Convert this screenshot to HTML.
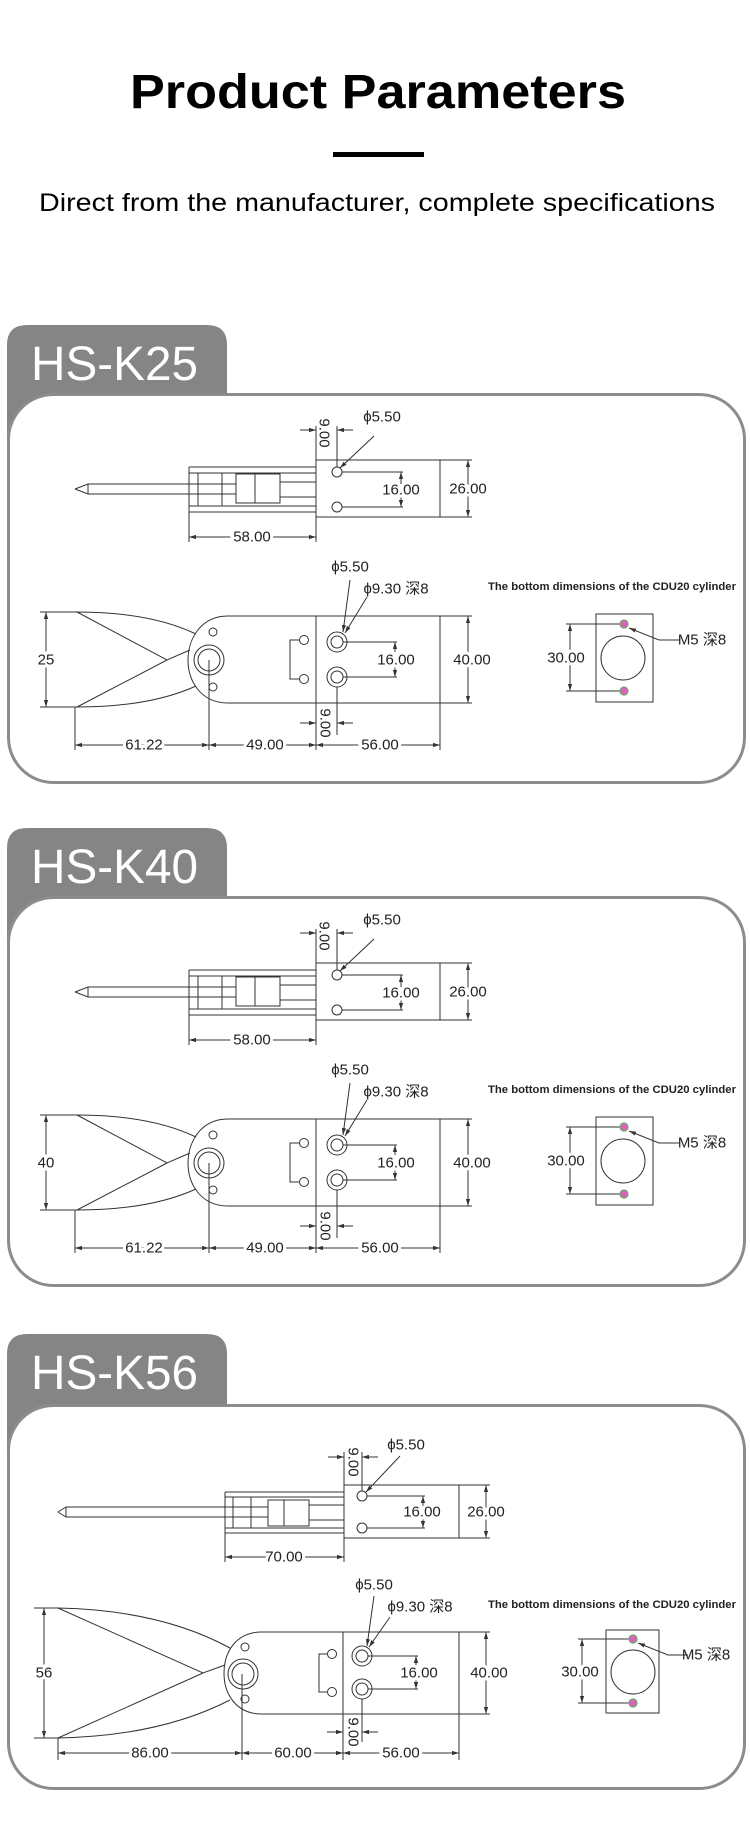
<!DOCTYPE html>
<html><head><meta charset="utf-8"><style>
html,body{margin:0;padding:0;background:#fff}
svg{display:block}
.d{stroke:#333;stroke-width:1;fill:none}
.t{font-family:"Liberation Sans","Noto Sans CJK SC",sans-serif;font-size:15px;fill:#222;text-anchor:middle;dominant-baseline:central;stroke:#fff;stroke-width:6;paint-order:stroke}
.tab{font-family:"Liberation Sans",sans-serif;font-size:48px;fill:#fff}
.cdu{font-family:"Liberation Sans",sans-serif;font-size:11px;font-weight:bold;fill:#222;text-anchor:middle}
.pk{fill:#e060c0;stroke:#6a6;stroke-width:1.2}
</style></head><body>
<svg width="750" height="1847" viewBox="0 0 750 1847" xmlns="http://www.w3.org/2000/svg">
<defs>
<marker id="a" viewBox="0 0 10 10" refX="10" refY="5" markerWidth="7" markerHeight="7" orient="auto-start-reverse"><path d="M0,2 L10,5 L0,8 Z" fill="#333"/></marker>
</defs>
<rect width="750" height="1847" fill="#fff"/>
<text x="378" y="108" font-family="Liberation Sans,sans-serif" font-size="48" font-weight="bold" text-anchor="middle" textLength="496" lengthAdjust="spacingAndGlyphs">Product Parameters</text>
<rect x="333" y="152" width="91" height="5" fill="#000"/>
<text x="377" y="211" font-family="Liberation Sans,sans-serif" font-size="25" text-anchor="middle" textLength="676" lengthAdjust="spacingAndGlyphs">Direct from the manufacturer, complete specifications</text>

<!-- PANEL 1 & 2 -->
<g id="p1">
<path d="M7,470 V345 Q7,325 27,325 H207 Q227,325 227,345 V470 Z" fill="#858585"/>
<rect x="8.5" y="394.5" width="736" height="388" rx="45" fill="#fff" stroke="#8c8c8c" stroke-width="3"/>
<text class="tab" x="31" y="380" textLength="167" lengthAdjust="spacingAndGlyphs">HS-K25</text>
<!-- top view -->
<g class="d">
<rect x="316" y="460" width="124" height="57"/>
<circle cx="337" cy="472" r="5"/><circle cx="337" cy="507" r="5"/>
<path d="M342,472 H403 M342,507 H403"/>
<path d="M401,472 V484" marker-start="url(#a)"/><path d="M401,497 V507" marker-end="url(#a)"/>
<path d="M440,460 H472 M440,517 H472"/>
<path d="M468,460 V517" marker-start="url(#a)" marker-end="url(#a)"/>
<path d="M189,467 H316 M189,473 H316 M189,506 H316 M189,512 H316 M189,467 V512 M198,473 V506 M222,473 V506"/>
<rect x="236" y="474" width="44" height="29"/><path d="M255,474 V503 M280,482 H316 M280,497 H316"/>
<path d="M75,489 L88,484 H236 M75,489 L88,494 H236 M88,484 V494"/>
<path d="M189,512 V542 M316,517 V542"/>
<path d="M189,537 H316" marker-start="url(#a)" marker-end="url(#a)"/>
<path d="M316,426 V460 M337,426 V467"/>
<path d="M300,430 H316" marker-end="url(#a)"/><path d="M353,430 H337" marker-end="url(#a)"/>
<path d="M374,436 L340,468" marker-end="url(#a)"/>
</g>
<text class="t" x="401" y="490">16.00</text>
<text class="t" x="468" y="489">26.00</text>
<text class="t" x="252" y="537">58.00</text>
<text class="t" x="324" y="433" transform="rotate(90 324 433)" style="stroke-width:0">9.00</text>
<text class="t" x="382" y="417" style="stroke-width:0">ϕ5.50</text>
<!-- bottom view -->
<g class="d">
<path d="M440,616 H228 C200,616 188,640 188,660 C188,680 200,703 228,703 H440 Z"/>
<path d="M316,616 V750"/>
<circle cx="209" cy="660" r="15"/><circle cx="209" cy="660" r="11"/>
<circle cx="213" cy="632" r="4"/><circle cx="213" cy="687" r="4"/>
<path d="M77,612 Q150,612 196,634 M77,612 L167,660 L190,650 M77,707 Q150,707 196,686 M77,707 L167,660"/>
<path d="M40,612 H77 M40,707 H77"/>
<path d="M46,612 V707" marker-start="url(#a)" marker-end="url(#a)"/>
<circle cx="337" cy="642" r="10"/><circle cx="337" cy="642" r="6"/>
<circle cx="337" cy="677" r="10"/><circle cx="337" cy="677" r="6"/>
<path d="M343,642 H397 M343,677 H397"/>
<path d="M395,642 V652" marker-start="url(#a)"/><path d="M395,667 V677" marker-end="url(#a)"/>
<path d="M440,616 H472 M440,703 H472"/>
<path d="M468,616 V703" marker-start="url(#a)" marker-end="url(#a)"/>
<circle cx="304" cy="640" r="4.5"/><circle cx="304" cy="679" r="4.5"/>
<path d="M299,640 H290 V679 H299 M290,658 V662"/>
<path d="M337,687 V735"/>
<path d="M300,723 H316" marker-end="url(#a)"/><path d="M353,723 H337" marker-end="url(#a)"/>
<path d="M75,707 V750 M209,660 V750 M440,703 V750"/>
<path d="M75,745 H209" marker-start="url(#a)" marker-end="url(#a)"/>
<path d="M209,745 H316" marker-start="url(#a)" marker-end="url(#a)"/>
<path d="M316,745 H440" marker-start="url(#a)" marker-end="url(#a)"/>
<path d="M350,580 L343,632" marker-end="url(#a)"/>
<path d="M367,597 L345,633" marker-end="url(#a)"/>
<rect x="596" y="614" width="57" height="88"/>
<circle cx="623" cy="658" r="22"/>
<path d="M566,624 H624 M566,691 H624"/>
<path d="M570,624 V691" marker-start="url(#a)" marker-end="url(#a)"/>
<path d="M680,640 H659 L629,628" marker-end="url(#a)"/>
</g>
<circle class="pk" cx="624" cy="624" r="4"/><circle class="pk" cx="624" cy="691" r="4"/>
<text class="t" x="396" y="660">16.00</text>
<text class="t" x="472" y="660">40.00</text>
<text class="t" x="46" y="660">25</text>
<text class="t" x="325" y="723" transform="rotate(90 325 723)" style="stroke-width:0">9.00</text>
<text class="t" x="144" y="745">61.22</text>
<text class="t" x="265" y="745">49.00</text>
<text class="t" x="380" y="745">56.00</text>
<text class="t" x="350" y="567" style="stroke-width:0">ϕ5.50</text>
<text class="t" x="396" y="589" style="stroke-width:0">ϕ9.30 深8</text>
<text class="cdu" x="612" y="590" textLength="248" lengthAdjust="spacingAndGlyphs">The bottom dimensions of the CDU20 cylinder</text>
<text class="t" x="566" y="658">30.00</text>
<text class="t" x="702" y="640" style="stroke-width:0">M5 深8</text>
</g>

<g transform="translate(0,503)">
<path d="M7,470 V345 Q7,325 27,325 H207 Q227,325 227,345 V470 Z" fill="#858585"/>
<rect x="8.5" y="394.5" width="736" height="388" rx="45" fill="#fff" stroke="#8c8c8c" stroke-width="3"/>
<text class="tab" x="31" y="380" textLength="167" lengthAdjust="spacingAndGlyphs">HS-K40</text>
<g class="d">
<rect x="316" y="460" width="124" height="57"/>
<circle cx="337" cy="472" r="5"/><circle cx="337" cy="507" r="5"/>
<path d="M342,472 H403 M342,507 H403"/>
<path d="M401,472 V484" marker-start="url(#a)"/><path d="M401,497 V507" marker-end="url(#a)"/>
<path d="M440,460 H472 M440,517 H472"/>
<path d="M468,460 V517" marker-start="url(#a)" marker-end="url(#a)"/>
<path d="M189,467 H316 M189,473 H316 M189,506 H316 M189,512 H316 M189,467 V512 M198,473 V506 M222,473 V506"/>
<rect x="236" y="474" width="44" height="29"/><path d="M255,474 V503 M280,482 H316 M280,497 H316"/>
<path d="M75,489 L88,484 H236 M75,489 L88,494 H236 M88,484 V494"/>
<path d="M189,512 V542 M316,517 V542"/>
<path d="M189,537 H316" marker-start="url(#a)" marker-end="url(#a)"/>
<path d="M316,426 V460 M337,426 V467"/>
<path d="M300,430 H316" marker-end="url(#a)"/><path d="M353,430 H337" marker-end="url(#a)"/>
<path d="M374,436 L340,468" marker-end="url(#a)"/>
</g>
<text class="t" x="401" y="490">16.00</text>
<text class="t" x="468" y="489">26.00</text>
<text class="t" x="252" y="537">58.00</text>
<text class="t" x="324" y="433" transform="rotate(90 324 433)" style="stroke-width:0">9.00</text>
<text class="t" x="382" y="417" style="stroke-width:0">ϕ5.50</text>
<g class="d">
<path d="M440,616 H228 C200,616 188,640 188,660 C188,680 200,703 228,703 H440 Z"/>
<path d="M316,616 V750"/>
<circle cx="209" cy="660" r="15"/><circle cx="209" cy="660" r="11"/>
<circle cx="213" cy="632" r="4"/><circle cx="213" cy="687" r="4"/>
<path d="M77,612 Q150,612 196,634 M77,612 L167,660 L190,650 M77,707 Q150,707 196,686 M77,707 L167,660"/>
<path d="M40,612 H77 M40,707 H77"/>
<path d="M46,612 V707" marker-start="url(#a)" marker-end="url(#a)"/>
<circle cx="337" cy="642" r="10"/><circle cx="337" cy="642" r="6"/>
<circle cx="337" cy="677" r="10"/><circle cx="337" cy="677" r="6"/>
<path d="M343,642 H397 M343,677 H397"/>
<path d="M395,642 V652" marker-start="url(#a)"/><path d="M395,667 V677" marker-end="url(#a)"/>
<path d="M440,616 H472 M440,703 H472"/>
<path d="M468,616 V703" marker-start="url(#a)" marker-end="url(#a)"/>
<circle cx="304" cy="640" r="4.5"/><circle cx="304" cy="679" r="4.5"/>
<path d="M299,640 H290 V679 H299 M290,658 V662"/>
<path d="M337,687 V735"/>
<path d="M300,723 H316" marker-end="url(#a)"/><path d="M353,723 H337" marker-end="url(#a)"/>
<path d="M75,707 V750 M209,660 V750 M440,703 V750"/>
<path d="M75,745 H209" marker-start="url(#a)" marker-end="url(#a)"/>
<path d="M209,745 H316" marker-start="url(#a)" marker-end="url(#a)"/>
<path d="M316,745 H440" marker-start="url(#a)" marker-end="url(#a)"/>
<path d="M350,580 L343,632" marker-end="url(#a)"/>
<path d="M367,597 L345,633" marker-end="url(#a)"/>
<rect x="596" y="614" width="57" height="88"/>
<circle cx="623" cy="658" r="22"/>
<path d="M566,624 H624 M566,691 H624"/>
<path d="M570,624 V691" marker-start="url(#a)" marker-end="url(#a)"/>
<path d="M680,640 H659 L629,628" marker-end="url(#a)"/>
</g>
<circle class="pk" cx="624" cy="624" r="4"/><circle class="pk" cx="624" cy="691" r="4"/>
<text class="t" x="396" y="660">16.00</text>
<text class="t" x="472" y="660">40.00</text>
<text class="t" x="46" y="660">40</text>
<text class="t" x="325" y="723" transform="rotate(90 325 723)" style="stroke-width:0">9.00</text>
<text class="t" x="144" y="745">61.22</text>
<text class="t" x="265" y="745">49.00</text>
<text class="t" x="380" y="745">56.00</text>
<text class="t" x="350" y="567" style="stroke-width:0">ϕ5.50</text>
<text class="t" x="396" y="589" style="stroke-width:0">ϕ9.30 深8</text>
<text class="cdu" x="612" y="590" textLength="248" lengthAdjust="spacingAndGlyphs">The bottom dimensions of the CDU20 cylinder</text>
<text class="t" x="566" y="658">30.00</text>
<text class="t" x="702" y="640" style="stroke-width:0">M5 深8</text>
</g>

<!-- PANEL 3 -->
<path d="M7,1480 V1354 Q7,1334 27,1334 H207 Q227,1334 227,1354 V1480 Z" fill="#858585"/>
<rect x="8.5" y="1405.5" width="736" height="383" rx="45" fill="#fff" stroke="#8c8c8c" stroke-width="3"/>
<text class="tab" x="31" y="1389" textLength="167" lengthAdjust="spacingAndGlyphs">HS-K56</text>
<g class="d">
<rect x="344" y="1485" width="115" height="53"/>
<circle cx="362" cy="1496" r="5"/><circle cx="362" cy="1528" r="5"/>
<path d="M367,1496 H425 M367,1528 H425"/>
<path d="M423,1496 V1506" marker-start="url(#a)"/><path d="M423,1518 V1528" marker-end="url(#a)"/>
<path d="M459,1485 H490 M459,1538 H490"/>
<path d="M486,1485 V1538" marker-start="url(#a)" marker-end="url(#a)"/>
<path d="M225,1492 H344 M225,1497 H344 M225,1528 H344 M225,1533 H344 M225,1492 V1533 M233,1497 V1528 M251,1497 V1528"/>
<rect x="268" y="1500" width="41" height="26"/><path d="M284,1500 V1526 M309,1505 H344 M309,1520 H344"/>
<path d="M58,1512 L66,1507 H268 M58,1512 L66,1517 H268 M66,1507 V1517"/>
<path d="M225,1533 V1562 M344,1538 V1562"/>
<path d="M225,1557 H344" marker-start="url(#a)" marker-end="url(#a)"/>
<path d="M344,1452 V1485 M362,1452 V1491"/>
<path d="M328,1457 H344" marker-end="url(#a)"/><path d="M378,1457 H362" marker-end="url(#a)"/>
<path d="M400,1456 L366,1492" marker-end="url(#a)"/>
</g>
<text class="t" x="422" y="1512">16.00</text>
<text class="t" x="486" y="1512">26.00</text>
<text class="t" x="284" y="1557">70.00</text>
<text class="t" x="353" y="1462" transform="rotate(90 353 1462)" style="stroke-width:0">9.00</text>
<text class="t" x="406" y="1445" style="stroke-width:0">ϕ5.50</text>
<g class="d">
<path d="M459,1632 H262 C236,1632 224,1652 224,1673 C224,1694 236,1714 262,1714 H459 Z"/>
<path d="M343,1632 V1760"/>
<circle cx="243" cy="1674" r="15"/><circle cx="243" cy="1674" r="11"/>
<circle cx="245" cy="1647" r="4"/><circle cx="245" cy="1699" r="4"/>
<path d="M58,1608 Q160,1610 230,1648 M58,1608 L203,1673 L225,1665 M58,1738 Q160,1736 230,1700 M58,1738 L203,1673"/>
<path d="M34,1608 H58 M34,1738 H58"/>
<path d="M44,1608 V1738" marker-start="url(#a)" marker-end="url(#a)"/>
<circle cx="362" cy="1656" r="10"/><circle cx="362" cy="1656" r="6"/>
<circle cx="362" cy="1689" r="10"/><circle cx="362" cy="1689" r="6"/>
<path d="M368,1656 H418 M368,1689 H418"/>
<path d="M416,1656 V1665" marker-start="url(#a)"/><path d="M416,1680 V1689" marker-end="url(#a)"/>
<path d="M459,1632 H490 M459,1714 H490"/>
<path d="M486,1632 V1714" marker-start="url(#a)" marker-end="url(#a)"/>
<circle cx="332" cy="1654" r="4.5"/><circle cx="332" cy="1692" r="4.5"/>
<path d="M327,1654 H319 V1692 H327 M319,1671 V1675"/>
<path d="M362,1699 V1742"/>
<path d="M327,1732 H343" marker-end="url(#a)"/><path d="M378,1732 H362" marker-end="url(#a)"/>
<path d="M58,1738 V1760 M242,1674 V1760 M459,1714 V1760"/>
<path d="M58,1753 H242" marker-start="url(#a)" marker-end="url(#a)"/>
<path d="M242,1753 H343" marker-start="url(#a)" marker-end="url(#a)"/>
<path d="M343,1753 H459" marker-start="url(#a)" marker-end="url(#a)"/>
<path d="M374,1596 L367,1646" marker-end="url(#a)"/>
<path d="M390,1617 L369,1647" marker-end="url(#a)"/>
<rect x="606" y="1630" width="53" height="83"/>
<circle cx="633" cy="1672" r="22"/>
<path d="M578,1639 H633 M578,1703 H633"/>
<path d="M582,1639 V1703" marker-start="url(#a)" marker-end="url(#a)"/>
<path d="M688,1655 H668 L638,1643" marker-end="url(#a)"/>
</g>
<circle class="pk" cx="633" cy="1639" r="4"/><circle class="pk" cx="633" cy="1703" r="4"/>
<text class="t" x="419" y="1673">16.00</text>
<text class="t" x="489" y="1673">40.00</text>
<text class="t" x="44" y="1673">56</text>
<text class="t" x="353" y="1732" transform="rotate(90 353 1732)" style="stroke-width:0">9.00</text>
<text class="t" x="150" y="1753">86.00</text>
<text class="t" x="293" y="1753">60.00</text>
<text class="t" x="401" y="1753">56.00</text>
<text class="t" x="374" y="1585" style="stroke-width:0">ϕ5.50</text>
<text class="t" x="420" y="1607" style="stroke-width:0">ϕ9.30 深8</text>
<text class="cdu" x="612" y="1608" textLength="248" lengthAdjust="spacingAndGlyphs">The bottom dimensions of the CDU20 cylinder</text>
<text class="t" x="580" y="1672">30.00</text>
<text class="t" x="706" y="1655" style="stroke-width:0">M5 深8</text>
</svg>
</body></html>
